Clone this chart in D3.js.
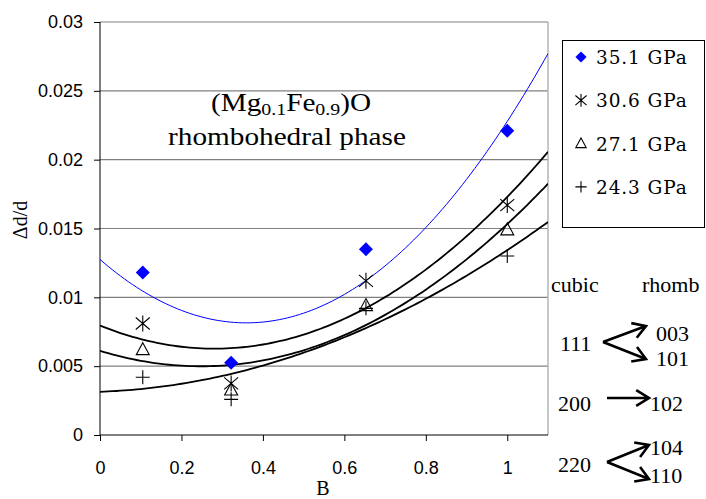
<!DOCTYPE html>
<html>
<head>
<meta charset="utf-8">
<script src="https://cdn.jsdelivr.net/npm/d3@7"></script>
<style>
  body { margin: 0; background: #fff; }
  svg { display: block; }
</style>
</head>
<body>
<div id="chart"></div>
<script>
// data
var bValues = [0.105, 0.322, 0.653, 1.0];
var seriesNames = ["35.1 GPa", "30.6 GPa", "27.1 GPa", "24.3 GPa"];
var d351 = [0.0118, 0.00525, 0.0135, 0.0221];
var d306 = [0.0081, 0.00375, 0.0112, 0.0167];
var d271 = [0.0062, 0.00327, 0.0094, 0.0149];
var d243 = [0.0042, 0.00259, 0.0092, 0.0130];
var xTicks = [0, 0.2, 0.4, 0.6, 0.8, 1];
var yTicks = [0, 0.005, 0.01, 0.015, 0.02, 0.025, 0.03];

var w = 706, h = 499;
var pLeft = 100, pRight = 548, pTop = 22, pBottom = 435;

var svg = d3.select("#chart").append("svg")
    .attr("width", w)
    .attr("height", h);

var x = d3.scaleLinear().domain([0, 1.1]).range([pLeft, pRight]);
var y = d3.scaleLinear().domain([0, 0.03]).range([pBottom, pTop]);

//least squares quadratic (the excel trendline)
function quadFit(xs, ys) {
  var s = [0, 0, 0, 0, 0], t = [0, 0, 0];
  for (var i = 0; i < xs.length; i++) {
    var p = 1;
    for (var k = 0; k < 5; k++) { s[k] += p; p *= xs[i]; }
    t[0] += ys[i]; t[1] += ys[i] * xs[i]; t[2] += ys[i] * xs[i] * xs[i];
  }
  var m = [[s[0], s[1], s[2], t[0]], [s[1], s[2], s[3], t[1]], [s[2], s[3], s[4], t[2]]];
  for (var c = 0; c < 3; c++) {
    for (var r = c + 1; r < 3; r++) {
      var f = m[r][c] / m[c][c];
      for (var j = c; j < 4; j++) m[r][j] -= f * m[c][j];
    }
  }
  var a = [0, 0, 0];
  for (var r2 = 2; r2 >= 0; r2--) {
    var v = m[r2][3];
    for (var j2 = r2 + 1; j2 < 3; j2++) v -= m[r2][j2] * a[j2];
    a[r2] = v / m[r2][r2];
  }
  return function(b) { return a[0] + a[1] * b + a[2] * b * b; };
}

var series = [
  { name: seriesNames[0], vals: d351, marker: "diamond", line: "#0000ff", lw: 1 },
  { name: seriesNames[1], vals: d306, marker: "star", line: "#000", lw: 1.8 },
  { name: seriesNames[2], vals: d271, marker: "triangle", line: "#000", lw: 1.8 },
  { name: seriesNames[3], vals: d243, marker: "plus", line: "#000", lw: 1.8 }
];

//grid lines
svg.selectAll(".grid")
  .data(yTicks.slice(1))
  .enter().append("line")
  .attr("x1", pLeft).attr("x2", pRight)
  .attr("y1", function(d) { return y(d); })
  .attr("y2", function(d) { return y(d); })
  .style("stroke", "#808080")
  .style("stroke-width", 1.2);

// right border
svg.append("line")
  .attr("x1", pRight).attr("x2", pRight)
  .attr("y1", pTop).attr("y2", pBottom)
  .style("stroke", "#b4b4b4")
  .style("stroke-width", 1.5);

//axes
var yAxis = svg.append("g")
  .attr("transform", "translate(" + pLeft + ",0)")
  .call(d3.axisLeft(y).tickValues(yTicks).tickSize(6).tickPadding(11).tickFormat(function(d) { return String(d); }));
var xAxis = svg.append("g")
  .attr("transform", "translate(0," + pBottom + ")")
  .call(d3.axisBottom(x).tickValues(xTicks).tickSize(6).tickPadding(20).tickFormat(function(d) { return String(d); }));

[yAxis, xAxis].forEach(function(g) {
  g.select(".domain").remove();
  g.selectAll("line").style("stroke", "#000");
  g.selectAll("text")
    .style("font-family", "'Liberation Sans', Arial, sans-serif")
    .style("font-size", "18px")
    .style("fill", "#000");
});
svg.append("line").attr("x1", pLeft).attr("x2", pLeft).attr("y1", pTop).attr("y2", pBottom).style("stroke", "#000");
svg.append("line").attr("x1", pLeft).attr("x2", pRight).attr("y1", pBottom).attr("y2", pBottom).style("stroke", "#000");

// axis titles
svg.append("text")
  .text("B")
  .attr("x", 323).attr("y", 495)
  .style("text-anchor", "middle")
  .style("font-family", "'Liberation Serif', 'Times New Roman', serif")
  .style("font-size", "20px");

svg.append("text")
  .text("\u0394d/d")
  .attr("transform", "translate(27,220) rotate(-90)")
  .style("text-anchor", "middle")
  .style("font-family", "'Liberation Serif', 'Times New Roman', serif")
  .style("font-size", "20px");

//trendlines
svg.append("clipPath").attr("id", "plotclip")
  .append("rect").attr("x", pLeft).attr("y", pTop).attr("width", pRight - pLeft).attr("height", pBottom - pTop);

var fitX = d3.range(0, 1.1001, 0.01);
series.slice().reverse().forEach(function(s) {
  var f = quadFit(bValues, s.vals);
  svg.append("path")
    .datum(fitX)
    .attr("clip-path", "url(#plotclip)")
    .attr("d", d3.line().x(function(d) { return x(d); }).y(function(d) { return y(f(d)); }))
    .style("fill", "none")
    .style("stroke", s.line)
    .style("stroke-width", s.lw);
});

//markers
function drawMarker(g, type, cx, cy, k) {
  if (type == "diamond") {
    g.append("path")
      .attr("d", "M" + cx + "," + (cy - 7 * k) + "L" + (cx + 7 * k) + "," + cy + "L" + cx + "," + (cy + 7 * k) + "L" + (cx - 7 * k) + "," + cy + "Z")
      .style("fill", "#0000ff");
  } else if (type == "star") {
    var p = "M" + cx + "," + (cy - 8 * k) + "V" + (cy + 8 * k) +
            "M" + (cx - 7 * k) + "," + (cy - 6 * k) + "L" + (cx + 7 * k) + "," + (cy + 6 * k) +
            "M" + (cx - 7 * k) + "," + (cy + 6 * k) + "L" + (cx + 7 * k) + "," + (cy - 6 * k);
    g.append("path").attr("d", p).style("stroke", "#000").style("stroke-width", 1.1).style("fill", "none");
  } else if (type == "triangle") {
    g.append("path")
      .attr("d", "M" + cx + "," + (cy - 7 * k) + "L" + (cx + 6.5 * k) + "," + (cy + 5 * k) + "L" + (cx - 6.5 * k) + "," + (cy + 5 * k) + "Z")
      .style("stroke", "#000").style("stroke-width", 1.1).style("fill", "none");
  } else {
    var q = "M" + (cx - 7 * k) + "," + cy + "H" + (cx + 7 * k) + "M" + cx + "," + (cy - 7 * k) + "V" + (cy + 7 * k);
    g.append("path").attr("d", q).style("stroke", "#000").style("stroke-width", 1.1).style("fill", "none");
  }
}

var markG = svg.append("g");
series.slice().reverse().forEach(function(s) {
  bValues.forEach(function(b, i) {
    drawMarker(markG, s.marker, x(b), y(s.vals[i]), 1);
  });
});

// chart label (slightly wide, like the original)
var lab = svg.append("text")
  .attr("transform", "translate(291,111) scale(1.17,1)")
  .style("text-anchor", "middle")
  .style("font-family", "'Liberation Serif', 'Times New Roman', serif")
  .style("font-size", "25px");
lab.append("tspan").text("(Mg");
lab.append("tspan").text("0.1").attr("dy", 4).style("font-size", "17px");
lab.append("tspan").text("Fe").attr("dy", -4);
lab.append("tspan").text("0.9").attr("dy", 4).style("font-size", "17px");
lab.append("tspan").text(")O").attr("dy", -4);

svg.append("text")
  .text("rhombohedral phase")
  .attr("transform", "translate(287,145) scale(1.17,1)")
  .style("text-anchor", "middle")
  .style("font-family", "'Liberation Serif', 'Times New Roman', serif")
  .style("font-size", "25px");

//legend
svg.append("rect")
  .attr("x", 562.5).attr("y", 40.5).attr("width", 142).attr("height", 187)
  .style("fill", "#fff").style("stroke", "#000");

series.forEach(function(s, i) {
  var ly = 57 + i * 43.3;
  drawMarker(svg, s.marker, 581, ly, 0.8);
  svg.append("text")
    .text(s.name)
    .attr("x", 596).attr("y", ly + 7)
    .style("font-family", "'DejaVu Serif', serif")
    .style("font-size", "18.5px")
    .style("letter-spacing", "0.9px");
});

//cubic -> rhomb notes
var notes = [
  { t: "cubic", x: 551, y: 292 },
  { t: "rhomb", x: 642, y: 292 },
  { t: "111", x: 560, y: 351 },
  { t: "003", x: 656, y: 341 },
  { t: "101", x: 656, y: 366 },
  { t: "200", x: 558, y: 411 },
  { t: "102", x: 650, y: 411 },
  { t: "220", x: 558, y: 472 },
  { t: "104", x: 650, y: 455 },
  { t: "110", x: 650, y: 483 }
];
svg.selectAll(".note")
  .data(notes)
  .enter().append("text")
  .text(function(d) { return d.t; })
  .attr("x", function(d) { return d.x; })
  .attr("y", function(d) { return d.y; })
  .style("font-family", "'Liberation Serif', 'Times New Roman', serif")
  .style("font-size", "22px");

function arrow(x1, y1, x2, y2) {
  var a = Math.atan2(y2 - y1, x2 - x1), len = 15, sp = 0.55;
  var p = "M" + x1 + "," + y1 + "L" + x2 + "," + y2 +
          "M" + (x2 - len * Math.cos(a - sp)) + "," + (y2 - len * Math.sin(a - sp)) +
          "L" + x2 + "," + y2 +
          "L" + (x2 - len * Math.cos(a + sp)) + "," + (y2 - len * Math.sin(a + sp));
  svg.append("path").attr("d", p)
    .style("fill", "none").style("stroke", "#000")
    .style("stroke-width", 2.6).style("stroke-linejoin", "miter");
}
arrow(603, 342, 646, 326);
arrow(603, 342, 646, 359);
arrow(607, 398, 649, 398);
arrow(607, 462, 649, 445);
arrow(607, 462, 649, 479);
</script>
</body>
</html>
